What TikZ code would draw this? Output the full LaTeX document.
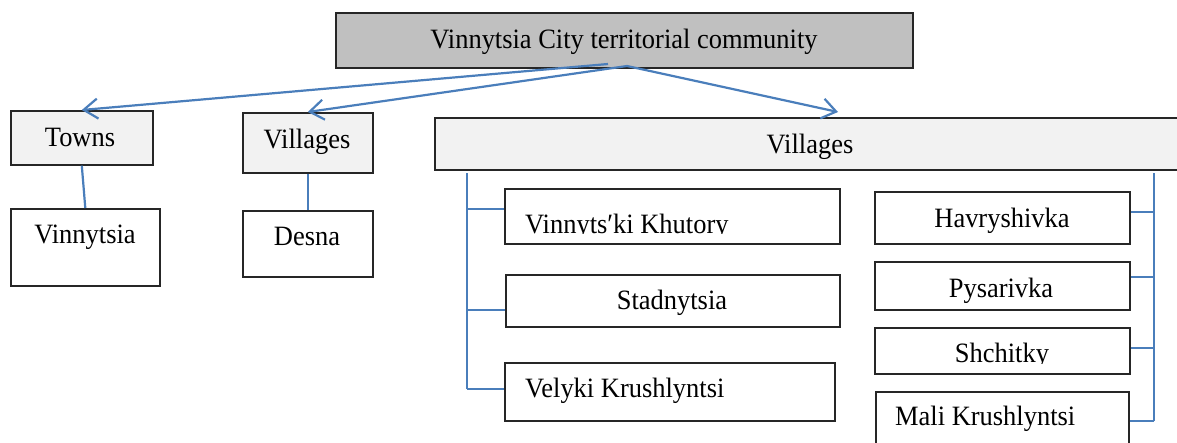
\documentclass[tikz,border=0pt]{standalone}
\usepackage{fontspec}
\setmainfont{Liberation Serif}[FakeStretch=0.945]
\usetikzlibrary{arrows.meta}
\definecolor{linkblue}{HTML}{4A7EBB}
\definecolor{headgray}{HTML}{C0C0C0}
\definecolor{subgray}{HTML}{F2F2F2}
\begin{document}
\begin{tikzpicture}[x=1pt,y=-1pt,
  box/.style={draw=black!85, line width=1.6pt, inner sep=0pt, anchor=north west},
  lbl/.style={font=\fontsize{28}{32}\selectfont, inner sep=0pt, anchor=base},
  lbll/.style={lbl, anchor=base west},
  link/.style={draw=linkblue, line width=2.2pt},
  arr/.style={link, -{Straight Barb[length=14pt,width=20pt,line width=2.2pt]}}]
\clip (0,0) rectangle (1177,442);
\fill[white] (0,0) rectangle (1177,442);

% boxes
\node[box, fill=headgray, minimum width=577pt, minimum height=55pt] (top) at (335,12) {};
\node[box, fill=subgray, minimum width=142pt, minimum height=54pt] (towns) at (10,110) {};
\node[box, fill=subgray, minimum width=130pt, minimum height=60pt] (vl) at (242,112) {};
\node[box, fill=subgray, minimum width=760pt, minimum height=52pt] (vb) at (434,117) {};
\node[box, minimum width=149pt, minimum height=77pt] (vin) at (10,208) {};
\node[box, minimum width=130pt, minimum height=66pt] (des) at (242,210) {};
\node[box, minimum width=335pt, minimum height=55pt] (vk) at (504,188) {};
\node[box, minimum width=334pt, minimum height=52pt] (sta) at (505,274) {};
\node[box, minimum width=330pt, minimum height=58pt] (vel) at (504,362) {};
\node[box, minimum width=255pt, minimum height=52pt] (hav) at (874,191) {};
\node[box, minimum width=255pt, minimum height=48pt] (pys) at (874,261) {};
\node[box, minimum width=255pt, minimum height=46pt] (shc) at (874,327) {};
\node[box, minimum width=253pt, minimum height=80pt] (mal) at (875,391) {};

% labels
\node[lbl] (tTop) at (624,48) {Vinnytsia City territorial community};
\node[lbl] (tTowns) at (80,146) {Towns};
\node[lbl] (tVl) at (307,148) {Villages};
\node[lbl] (tVb) at (810,153) {Villages};
\node[lbl] (tVin) at (85,243) {Vinnytsia};
\node[lbl] (tDes) at (307,245) {Desna};
\begin{scope}
  \clip (504,188) rectangle (839,233);
  \node[lbll] (tVk) at (525,233) {Vinnyts′ki Khutory};
\end{scope}
\node[lbl] (tSta) at (672,309) {Stadnytsia};
\node[lbll] (tVel) at (525,397) {Velyki Krushlyntsi};
\node[lbl] (tHav) at (1002,227) {Havryshivka};
\node[lbl] (tPys) at (1001,297) {Pysarivka};
\begin{scope}
  \clip (874,327) rectangle (1129,363);
  \node[lbl] (tShc) at (1002,362) {Shchitky};
\end{scope}
\node[lbll] (tMal) at (895,425) {Mali Krushlyntsi};

% arrows from the community box
\coordinate (s1) at (608,64);
\coordinate (s2) at (627,66);
\coordinate (e3) at (838,112);
\draw[arr] (s1) -- (towns.north);
\draw[arr] (s2) -- (vl.north);
\draw[arr] (s2) -- (e3);

% single children
\draw[link] (towns.south) -- (vin.north);
\draw[link] (vl.south) -- (des.north);

% left bracket
\coordinate (la) at (467,173);
\coordinate (l1) at (467,209);
\coordinate (l2) at (467,310);
\coordinate (l3) at (467,389);
\draw[link] (la) -- (l3);
\draw[link] (l1) -- (l1 -| vk.west);
\draw[link] (l2) -- (l2 -| sta.west);
\draw[link] (l3) -- (l3 -| vel.west);

% right bracket
\coordinate (ra) at (1154,173);
\coordinate (r1) at (1154,212);
\coordinate (r2) at (1154,277);
\coordinate (r3) at (1154,348);
\coordinate (r4) at (1154,421);
\draw[link] (ra) -- (r4);
\draw[link] (r1) -- (r1 -| hav.east);
\draw[link] (r2) -- (r2 -| pys.east);
\draw[link] (r3) -- (r3 -| shc.east);
\draw[link] (r4) -- (r4 -| mal.east);
\end{tikzpicture}
\end{document}
